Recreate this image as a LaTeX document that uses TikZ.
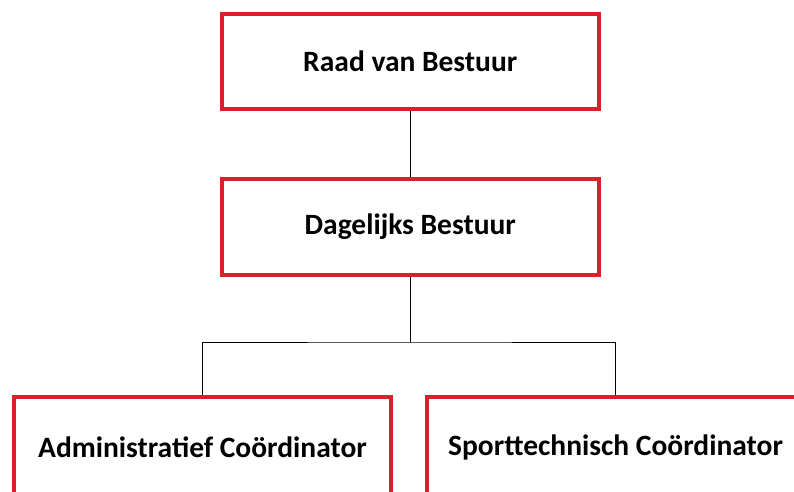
\documentclass[tikz,border=0pt]{standalone}
\usepackage{fontspec}
\setmainfont{Carlito}
\definecolor{boxred}{RGB}{218,33,42}
\begin{document}
\begin{tikzpicture}[x=1pt,y=-1pt,
  orgbox/.style={draw=boxred, line width=4pt, rectangle, minimum width=377pt,
    inner sep=0pt, font=\fontsize{29.5}{34}\selectfont\bfseries, text=black},
  conn/.style={draw=black, line width=1pt}]
\useasboundingbox (0,0) rectangle (794,491);
\clip (0,0) rectangle (794,491);
\node[orgbox, minimum height=95pt] (top) at (410.25,61) {Raad van Bestuur};
\node[orgbox, minimum height=96.5pt] (mid) at (410.25,226.75) {Dagelijks Bestuur};
\node[orgbox, minimum height=101pt] (left) at (202.5,447) {Administratief Coördinator};
\node[orgbox, minimum height=101pt] (right) at (615.5,447) {Sporttechnisch Coördinator};
\coordinate (j) at (410.25,342);
\draw[conn] (top.south) -- (mid.north);
\draw[conn] (mid.south) -- (j);
\draw[conn] (left.north) |- (j) -| (right.north);
\end{tikzpicture}
\end{document}
